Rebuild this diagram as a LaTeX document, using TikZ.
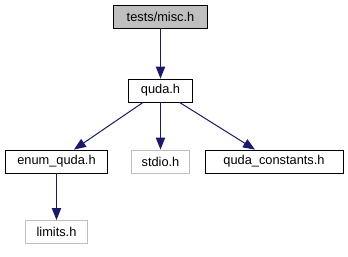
\documentclass[tikz,border=0pt]{standalone}
\usepackage{fontspec}
\setmainfont{Liberation Sans}
\usepackage{tikz}
\usetikzlibrary{arrows.meta, positioning}
\definecolor{edgeblue}{HTML}{191970}
\definecolor{boxgray}{HTML}{BFBFBF}

\begin{document}
\begin{tikzpicture}[x=0.75pt, y=-0.75pt,
		file/.style={draw=black, line width=0.6pt, minimum height=17.25pt, inner sep=0pt, font=\fontsize{9.6}{10}\selectfont},
		root/.style={file, fill=boxgray},
		sysfile/.style={file, draw=boxgray},
		inc/.style={-{Triangle[length=9pt, width=7pt]}, edgeblue, line width=0.75pt}]
					\useasboundingbox (0,0) rectangle (348,256);
					\node[root, minimum width=71pt] (misc) at (160.5,16.5) {tests/misc.h};
					\node[file, minimum width=48pt] (quda) at (160.5,90.5) {quda.h};
					\node[file, minimum width=77pt] (enum) at (56.5,161.5) {enum\_quda.h};
					\node[sysfile, minimum width=43.5pt] (stdio) at (160.5,161.5) {stdio.h};
					\node[file, minimum width=103.5pt] (consts) at (274,161.5) {quda\_constants.h};
					\node[sysfile, minimum width=47pt] (limits) at (56.5,232) {limits.h};
					\draw[inc] (misc) -- (quda);
					\draw[inc] (quda) -- (enum);
					\draw[inc] (quda) -- (stdio);
					\draw[inc] (quda) -- (consts);
					\draw[inc] (enum) -- (limits);
				\end{tikzpicture}
\end{document}
